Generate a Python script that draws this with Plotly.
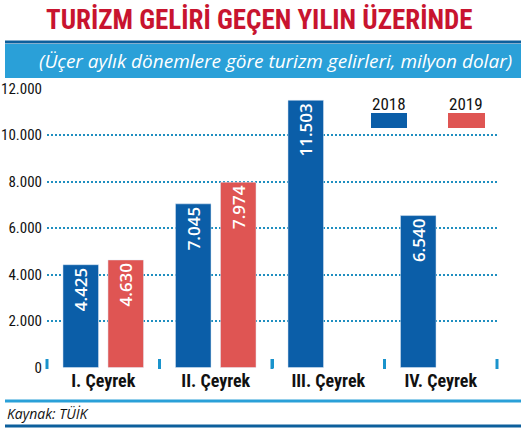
import plotly.graph_objects as go

# quarterly tourism revenue, million USD
quarters = ["I. Çeyrek", "II. Çeyrek", "III. Çeyrek", "IV. Çeyrek"]
rev_2018 = [4425, 7045, 11503, 6540]
rev_2019 = [4630, 7974, None, None]
y_ticks = [0, 2000, 4000, 6000, 8000, 10000, 12000]

BLUE = "#0b5ea8"
RED = "#df5553"
BAND = "#2aa0d8"
DARK = "#0c5f9c"
GRID = "#1f8fc0"
TICK = "#1a93cc"
TITLE_RED = "#c8142f"
COND = "Roboto Condensed, Open Sans Condensed, sans-serif"
SANS = "Open Sans, Noto Sans, sans-serif"

# pixel helpers: plot area spans x 47..497, y 88..368
def px_x(x):
    return (x - 47) / 450.0

def px_y(y):
    return (368 - y) / 280.0


fig = go.Figure()
for name, vals, color in [("2018", rev_2018, BLUE), ("2019", rev_2019, RED)]:
    fig.add_trace(
        go.Bar(
            x=quarters,
            y=vals,
            name=name,
            marker_color=color,
            texttemplate="%{y:,.0f}",
            textposition="inside",
            insidetextanchor="end",
            textangle=-90,
            textfont=dict(family=SANS, size=17, color="white", weight=600),
        )
    )

shapes = [
    # blue band behind subtitle
    dict(type="rect", xref="paper", yref="paper", x0=px_x(5), x1=px_x(521),
         y0=px_y(78), y1=px_y(44), fillcolor=BAND, line_width=0, layer="below"),
    dict(type="line", xref="paper", yref="paper", x0=px_x(5), x1=px_x(521),
         y0=px_y(42), y1=px_y(42), line=dict(color=DARK, width=3)),
    # footer lines
    dict(type="line", xref="paper", yref="paper", x0=px_x(5), x1=px_x(521),
         y0=px_y(401), y1=px_y(401), line=dict(color=BAND, width=3)),
    dict(type="line", xref="paper", yref="paper", x0=px_x(5), x1=px_x(521),
         y0=px_y(426), y1=px_y(426), line=dict(color=DARK, width=3)),
    # legend swatches
    dict(type="rect", xref="paper", yref="paper", x0=px_x(371), x1=px_x(407),
         y0=px_y(128), y1=px_y(113), fillcolor=BLUE, line_width=0),
    dict(type="rect", xref="paper", yref="paper", x0=px_x(448), x1=px_x(485),
         y0=px_y(128), y1=px_y(113), fillcolor=RED, line_width=0),
]
# small ticks on the baseline between quarters (plot spans the full paper width)
n = len(quarters)
for i in range(n + 1):
    xb = i / n
    shapes.append(dict(type="rect", xref="paper", yref="paper",
                       x0=xb - 1.5 / 450, x1=xb + 1.5 / 450,
                       y0=px_y(369), y1=px_y(359), fillcolor=TICK, line_width=0))

annotations = [
    dict(text="TURİZM GELİRİ GEÇEN YILIN ÜZERİNDE", xref="paper", yref="paper",
         x=px_x(259), y=px_y(20), xanchor="center", yanchor="middle", showarrow=False,
         font=dict(family=COND, size=27, color=TITLE_RED, weight="bold")),
    dict(text="(Üçer aylık dönemlere göre turizm gelirleri, milyon dolar)", xref="paper",
         yref="paper", x=px_x(514), y=px_y(61), xanchor="right", yanchor="middle",
         showarrow=False, font=dict(family=SANS, size=19, color="white", style="italic")),
    dict(text="Kaynak: TÜİK", xref="paper", yref="paper", x=px_x(5), y=px_y(413),
         xanchor="left", yanchor="middle", showarrow=False,
         font=dict(family=SANS, size=14, color="#111111", style="italic")),
    dict(text="2018", xref="paper", yref="paper", x=px_x(389), y=px_y(104),
         xanchor="center", yanchor="middle", showarrow=False,
         font=dict(family=COND, size=17, color="#111111")),
    dict(text="2019", xref="paper", yref="paper", x=px_x(466), y=px_y(104),
         xanchor="center", yanchor="middle", showarrow=False,
         font=dict(family=COND, size=17, color="#111111")),
]

fig.update_layout(
    width=530,
    height=432,
    margin=dict(l=47, r=33, t=88, b=64),
    paper_bgcolor="white",
    plot_bgcolor="white",
    barmode="group",
    bargap=0.2,
    bargroupgap=0.21,
    showlegend=False,
    separators=",.",
    uniformtext=dict(minsize=16, mode="show"),
    shapes=shapes,
    annotations=annotations,
)
fig.update_xaxes(
    type="category",
    automargin=False,
    showgrid=False,
    showline=False,
    ticks="inside",
    tickson="boundaries",
    ticklen=9,
    tickwidth=3,
    tickcolor=TICK,
    tickfont=dict(family=COND, size=18, color="#111111", weight="bold"),
    fixedrange=True,
)
fig.update_yaxes(
    automargin=False,
    range=[-20, 12030],
    tickvals=y_ticks,
    tickformat=",.0f",
    showgrid=True,
    gridcolor=GRID,
    gridwidth=2,
    griddash="2px,2px",
    zeroline=False,
    showline=False,
    ticks="",
    ticklabelstandoff=4,
    tickfont=dict(family=COND, size=15, color="#111111"),
    fixedrange=True,
)

# page body has a default 8px margin; drop it so the figure sits at the corner
fig.write_html(
    "out.html",
    config={"displayModeBar": False},
    post_script="document.body.style.margin='0';",
)
